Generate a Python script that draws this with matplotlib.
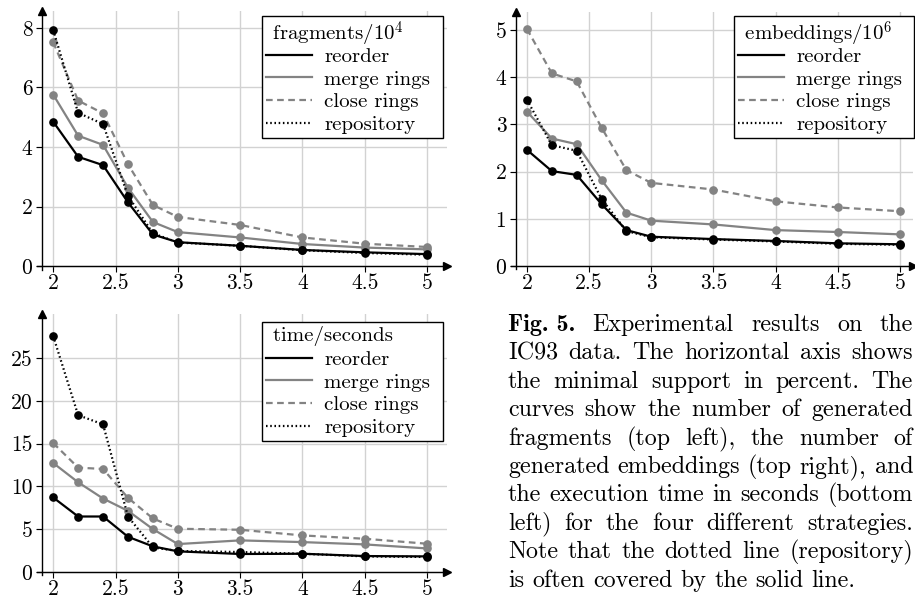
import matplotlib
matplotlib.use('Agg')
import matplotlib.pyplot as plt

plt.rcParams['font.family'] = ['cmr10']
plt.rcParams['mathtext.fontset'] = 'cm'
plt.rcParams['axes.formatter.use_mathtext'] = True

# minimal support in percent
support = [2, 2.2, 2.4, 2.6, 2.8, 3, 3.5, 4, 4.5, 5]
x_ticks = [2, 2.5, 3, 3.5, 4, 4.5, 5]
x_tick_labels = ['2', '2.5', '3', '3.5', '4', '4.5', '5']
strategies = ['reorder', 'merge rings', 'close rings', 'repository']

# fragments / 10^4
frag_reorder = [4.85, 3.67, 3.39, 2.14, 1.06, 0.80, 0.68, 0.54, 0.46, 0.40]
frag_merge = [5.76, 4.38, 4.07, 2.63, 1.48, 1.14, 0.96, 0.74, 0.62, 0.56]
frag_close = [7.52, 5.56, 5.13, 3.42, 2.05, 1.65, 1.38, 0.96, 0.75, 0.64]
frag_repo = [7.93, 5.15, 4.77, 2.36, 1.10, 0.79, 0.68, 0.53, 0.44, 0.38]
frag_yticks = [0, 2, 4, 6, 8]

# embeddings / 10^6
emb_reorder = [2.46, 2.01, 1.93, 1.31, 0.76, 0.62, 0.57, 0.53, 0.48, 0.46]
emb_merge = [3.27, 2.70, 2.58, 1.82, 1.13, 0.96, 0.88, 0.76, 0.72, 0.67]
emb_close = [5.02, 4.08, 3.91, 2.93, 2.03, 1.76, 1.62, 1.37, 1.24, 1.16]
emb_repo = [3.52, 2.56, 2.44, 1.42, 0.74, 0.61, 0.56, 0.52, 0.47, 0.45]
emb_yticks = [0, 1, 2, 3, 4, 5]

# time in seconds
time_reorder = [8.70, 6.48, 6.48, 4.11, 2.99, 2.41, 2.10, 2.13, 1.86, 1.82]
time_merge = [12.73, 10.48, 8.58, 7.14, 5.01, 3.26, 3.69, 3.49, 3.22, 2.75]
time_close = [15.06, 12.19, 12.03, 8.66, 6.25, 5.05, 4.93, 4.27, 3.88, 3.30]
time_repo = [27.56, 18.32, 17.24, 6.48, 2.87, 2.45, 2.33, 2.13, 1.82, 1.75]
time_yticks = [0, 5, 10, 15, 20, 25]

caption_lines = [
    'Fig. 5. Experimental results on the',
    'IC93 data. The horizontal axis shows',
    'the minimal support in percent. The',
    'curves show the number of generated',
    'fragments (top left), the number of',
    'generated embeddings (top right), and',
    'the execution time in seconds (bottom',
    'left) for the four different strategies.',
    'Note that the dotted line (repository)',
    'is often covered by the solid line.',
]

W, H = 915, 599
GRAY = '#838383'
styles = {
    'reorder': dict(color='black', ls='-', zorder=5),
    'merge rings': dict(color=GRAY, ls='-', zorder=3),
    'close rings': dict(color=GRAY, dashes=(3, 2), zorder=2),
    'repository': dict(color='black', dashes=(0.7, 1.2), zorder=4),
}

fig = plt.figure(figsize=(W / 100, H / 100), dpi=100)


def px_axes(left, top, right, bottom):
    return fig.add_axes([left / W, 1 - bottom / H, (right - left) / W, (bottom - top) / H])


def draw_panel(ax, series, yticks, xlim, ylim, spine_x, title, leg_box):
    ax.set_xlim(*xlim)
    ax.set_ylim(*ylim)
    ax.set_axisbelow(True)
    ax.grid(True, color='#d2d2d2', lw=1.0)
    for side in ['top', 'right']:
        ax.spines[side].set_visible(False)
    ax.spines['left'].set_position(('data', spine_x))
    ax.spines['bottom'].set_position(('data', 0))
    for side in ['left', 'bottom']:
        ax.spines[side].set_linewidth(1.0)
    ax.set_xticks(x_ticks)
    ax.set_xticklabels(x_tick_labels)
    ax.set_yticks(yticks)
    ax.set_yticklabels([str(t) for t in yticks])
    ax.tick_params(direction='out', length=4.5, width=0.8, labelsize=15.5)
    ax.tick_params(axis='x', pad=1)
    ax.tick_params(axis='y', pad=2.5)
    # axis arrows
    ax.plot(1, 0, '>', color='black', ms=6, transform=ax.get_yaxis_transform(), clip_on=False)
    ax.plot(spine_x, 1, '^', color='black', ms=6, transform=ax.get_xaxis_transform(), clip_on=False)

    handles = []
    for name, values in zip(strategies, series):
        st = styles[name]
        kw = dict(color=st['color'], lw=1.6, zorder=st['zorder'], label=name)
        if 'dashes' in st:
            kw['dashes'] = st['dashes']
        else:
            kw['ls'] = st['ls']
        line, = ax.plot(support, values, **kw)
        ax.plot(support, values, 'o', color=st['color'], ms=5.2, zorder=st['zorder'], clip_on=False)
        handles.append(line)

    left, top, right, bottom = leg_box
    leg = ax.legend(handles, strategies, title=title, loc='upper left', mode='expand',
                    bbox_to_anchor=(left / W, 1 - bottom / H, (right - left) / W, (bottom - top) / H),
                    bbox_transform=fig.transFigure,
                    fancybox=False, edgecolor='black', framealpha=1, fontsize=15, title_fontsize=15,
                    alignment='left', handlelength=2.2, handletextpad=0.6, labelspacing=0.2,
                    borderpad=0.2, borderaxespad=0)
    # the superscript makes the title box taller: pull the entries up a bit
    if '$' in title:
        leg._legend_box.sep = -1.5
    leg.get_frame().set_linewidth(1.0)
    leg.set_zorder(10)


ax1 = px_axes(37, 11, 447, 269.6)
draw_panel(ax1, [frag_reorder, frag_merge, frag_close, frag_repo], frag_yticks,
           (1.87, 5.16), (-0.12, 8.57), 1.91, r' fragments/$10^4$', (262, 16, 443, 137))

ax2 = px_axes(510.8, 12, 913, 269.3)
draw_panel(ax2, [emb_reorder, emb_merge, emb_close, emb_repo], emb_yticks,
           (1.87, 5.105), (-0.07, 5.38), 1.912, r' embeddings/$10^6$', (734, 16, 914, 137))

ax3 = px_axes(37, 314.3, 447, 575.4)
draw_panel(ax3, [time_reorder, time_merge, time_close, time_repo], time_yticks,
           (1.87, 5.16), (-0.4, 30.1), 1.91, ' time/seconds', (262, 322, 443, 443))

# justified caption
cap_left, cap_right = 508, 913
cap_size = 17.3
first_base, skip = 331, 28.4
renderer = fig.canvas.get_renderer()


def word_text(word, bold):
    family = 'cmb10' if bold else 'cmr10'
    return fig.text(0, 0, word, fontsize=cap_size, family=family, va='baseline', ha='left')


probe = word_text('a a', False)
probe2 = word_text('aa', False)
space_w = probe.get_window_extent(renderer).width - probe2.get_window_extent(renderer).width
probe.remove()
probe2.remove()

for i, line in enumerate(caption_lines):
    y = 1 - (first_base + i * skip) / H
    words = line.split(' ')
    if i == 0:
        words = ['Fig. 5.'] + words[2:]
    texts = [word_text(w, i == 0 and j == 0) for j, w in enumerate(words)]
    widths = [t.get_window_extent(renderer).width for t in texts]
    if i < len(caption_lines) - 1:
        gap = (cap_right - cap_left - sum(widths)) / (len(words) - 1)
    else:
        gap = space_w
    x = cap_left
    for t, w in zip(texts, widths):
        t.set_position((x / W, y))
        x += w + gap

fig.savefig('out.png', dpi=100)
